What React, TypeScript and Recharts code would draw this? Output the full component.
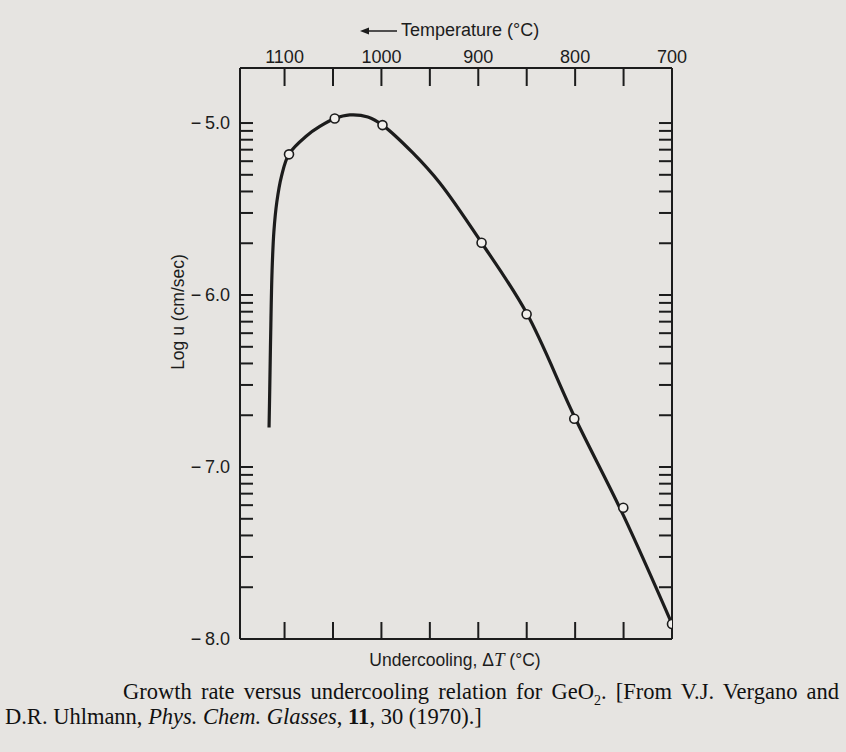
import { ComposedChart, Line, Scatter, XAxis, YAxis } from 'recharts';

// temperature (°C) and log u (cm/sec)
const curveT = [1116.0, 1115.3, 1114.3, 1112.9, 1111.0, 1108.0, 1103.2, 1095.4, 1077.4, 1063.6, 1048.2, 1032.6, 1014.0, 998.9, 967.5, 939.7, 896.6, 850.1, 800.9, 750.3, 700.0];
const curveLogU = [-6.77, -6.55, -6.22, -5.86, -5.63, -5.46, -5.31, -5.18, -5.075, -5.02, -4.974, -4.953, -4.965, -5.012, -5.174, -5.349, -5.696, -6.105, -6.705, -7.28, -7.913];

const pointT = [1095.4, 1048.2, 998.9, 896.6, 850.1, 800.9, 750.3, 700.0];
const pointLogU = [-5.182, -4.974, -5.012, -5.696, -6.112, -6.719, -7.237, -7.913];

const tempTicks = [1100, 1050, 1000, 950, 900, 850, 800, 750, 700];
const decades = [-5, -6, -7, -8];
const minorSteps = [2, 3, 4, 5, 6, 7, 8, 9];

const logTicks = [
  ...decades,
  ...decades.slice(1).flatMap((d) => minorSteps.map((k) => d + Math.log10(k))),
];

const curve = curveT.map((t, i) => ({ t, v: curveLogU[i] }));
const points = pointT.map((t, i) => ({ t, v: pointLogU[i] }));

const INK = '#1c1c1c';
const PAPER = '#e6e4e1';
const SANS = '"Liberation Sans", Arial, sans-serif';
const SERIF = '"Liberation Serif", "Times New Roman", serif';

const axisLine = { stroke: INK, strokeWidth: 2 };
const tickLine = { stroke: INK, strokeWidth: 2 };
const tickText = { fill: INK, fontSize: 18, fontFamily: SANS };

const fmtLog = (v: number) => (Number.isInteger(v) ? `\u2212\u2009${Math.abs(v).toFixed(1)}` : '');
const fmtTemp = (v: number) => (v % 100 === 0 ? String(v) : '');
const blank = () => '';

// centripetal catmull-rom, smooth through every point like a drawn french curve
const smoothCurve = (context: any) => {
  let pts: number[][] = [];
  return {
    areaStart() {},
    areaEnd() {},
    lineStart() {
      pts = [];
    },
    point(x: number, y: number) {
      pts.push([+x, +y]);
    },
    lineEnd() {
      if (!pts.length) return;
      context.moveTo(pts[0][0], pts[0][1]);
      const len = (a: number[], b: number[]) => Math.sqrt(Math.hypot(b[0] - a[0], b[1] - a[1]));
      for (let i = 0; i < pts.length - 1; i++) {
        const p0 = pts[i - 1] || pts[i];
        const p1 = pts[i];
        const p2 = pts[i + 1];
        const p3 = pts[i + 2] || p2;
        const l01 = len(p0, p1);
        const l12 = len(p1, p2);
        const l23 = len(p2, p3);
        let c1 = p1;
        let c2 = p2;
        if (l01 > 1e-6) {
          const a = 2 * l01 * l01 + 3 * l01 * l12 + l12 * l12;
          const n = 3 * l01 * (l01 + l12);
          c1 = [0, 1].map((k) => (p1[k] * a - p0[k] * l12 * l12 + p2[k] * l01 * l01) / n);
        }
        if (l23 > 1e-6) {
          const b = 2 * l23 * l23 + 3 * l23 * l12 + l12 * l12;
          const m = 3 * l23 * (l23 + l12);
          c2 = [0, 1].map((k) => (p2[k] * b + p1[k] * l23 * l23 - p3[k] * l12 * l12) / m);
        }
        context.bezierCurveTo(c1[0], c1[1], c2[0], c2[1], p2[0], p2[1]);
      }
    },
  };
};

const OpenDot = (props: any) => (
  <circle cx={props.cx} cy={props.cy} r={4.5} fill="#f2f0ed" stroke={INK} strokeWidth={1.6} />
);

export default function App() {
  return (
    <div style={{ position: 'absolute', left: 0, top: 0, width: 846, height: 752, background: PAPER, overflow: 'hidden' }}>
      <ComposedChart width={846} height={752} margin={{ top: 38, right: 164, bottom: 83, left: 160 }}>
        <XAxis
          xAxisId="top"
          orientation="top"
          type="number"
          dataKey="t"
          domain={[700, 1146]}
          reversed
          allowDataOverflow
          ticks={tempTicks}
          interval={0}
          height={30}
          tickSize={-18}
          tickMargin={23}
          axisLine={axisLine}
          tickLine={tickLine}
          tick={tickText}
          tickFormatter={fmtTemp}
        />
        <XAxis
          xAxisId="bottom"
          orientation="bottom"
          type="number"
          dataKey="t"
          domain={[700, 1146]}
          reversed
          allowDataOverflow
          ticks={tempTicks}
          interval={0}
          height={30}
          tickSize={-17}
          axisLine={axisLine}
          tickLine={tickLine}
          tickFormatter={blank}
        />
        <YAxis
          yAxisId="left"
          orientation="left"
          type="number"
          dataKey="v"
          domain={[-8, -4.68]}
          allowDataOverflow
          ticks={logTicks}
          interval={0}
          width={80}
          tickSize={-13}
          tickMargin={23}
          axisLine={axisLine}
          tickLine={tickLine}
          tick={tickText}
          tickFormatter={fmtLog}
        />
        <YAxis
          yAxisId="right"
          orientation="right"
          type="number"
          dataKey="v"
          domain={[-8, -4.68]}
          allowDataOverflow
          ticks={logTicks}
          interval={0}
          width={10}
          tickSize={-13}
          axisLine={axisLine}
          tickLine={tickLine}
          tickFormatter={blank}
        />
        <Line
          xAxisId="bottom"
          yAxisId="left"
          data={curve}
          dataKey="v"
          type={smoothCurve as any}
          stroke={INK}
          strokeWidth={3.2}
          dot={false}
          activeDot={false}
          isAnimationActive={false}
        />
        <Scatter
          xAxisId="bottom"
          yAxisId="left"
          data={points}
          dataKey="v"
          shape={OpenDot}
          isAnimationActive={false}
        />
      </ComposedChart>

      <div style={{ position: 'absolute', left: 360, top: 20, display: 'flex', alignItems: 'center', fontFamily: SANS, fontSize: 18, color: INK, whiteSpace: 'nowrap' }}>
        <svg width={38} height={10} style={{ marginRight: 3 }}>
          <line x1={4} y1={5} x2={37} y2={5} stroke={INK} strokeWidth={1.6} />
          <polygon points="0,5 9,1.5 9,8.5" fill={INK} />
        </svg>
        <span>Temperature (°C)</span>
      </div>

      <div style={{ position: 'absolute', left: 178, top: 312, transform: 'translate(-50%, -50%) rotate(-90deg)', fontFamily: SANS, fontSize: 17.5, color: INK, whiteSpace: 'nowrap' }}>
        Log u (cm/sec)
      </div>

      <div style={{ position: 'absolute', left: 455, top: 660, transform: 'translate(-50%, -50%)', fontFamily: SANS, fontSize: 17.5, color: INK, whiteSpace: 'nowrap' }}>
        Undercooling, {'\u0394'}<span style={{ fontFamily: SERIF, fontStyle: 'italic', fontSize: 19 }}>T</span> (°C)
      </div>

      <div style={{ position: 'absolute', left: 123, top: 679, width: 716, fontFamily: SERIF, fontSize: 22.5, color: '#111', whiteSpace: 'nowrap', textAlign: 'justify', textAlignLast: 'justify' }}>
        Growth rate versus undercooling relation for GeO<sub style={{ fontSize: 14 }}>2</sub>. [From V.J. Vergano and
      </div>
      <div style={{ position: 'absolute', left: 5, top: 704, fontFamily: SERIF, fontSize: 22.5, color: '#111', whiteSpace: 'nowrap' }}>
        D.R. Uhlmann, <i>Phys. Chem. Glasses</i>, <b>11</b>, 30 (1970).]
      </div>
    </div>
  );
}
